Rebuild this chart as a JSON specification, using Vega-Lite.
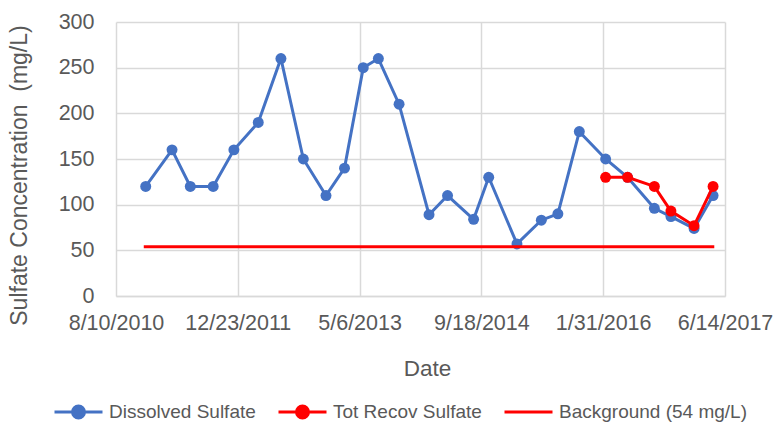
{
  "$schema": "https://vega.github.io/schema/vega-lite/v6.json",
  "autosize": {"type": "none"},
  "padding": {"left": 116, "top": 22, "right": 59, "bottom": 128},
  "width": 609,
  "height": 274,
  "background": "white",
  "config": {
    "view": {"stroke": null},
    "font": "Liberation Sans",
    "axis": {"labelColor": "#595959", "titleColor": "#595959", "titleFontWeight": "normal", "gridColor": "#D9D9D9", "gridWidth": 1.5, "ticks": false, "tickSize": 0}
  },
  "datasets": {
    "pts": [
      {"date": "2010-12-10", "value": 120, "series": "Dissolved Sulfate"},
      {"date": "2011-03-28", "value": 160, "series": "Dissolved Sulfate"},
      {"date": "2011-06-11", "value": 120, "series": "Dissolved Sulfate"},
      {"date": "2011-09-13", "value": 120, "series": "Dissolved Sulfate"},
      {"date": "2011-12-07", "value": 160, "series": "Dissolved Sulfate"},
      {"date": "2012-03-16", "value": 190, "series": "Dissolved Sulfate"},
      {"date": "2012-06-17", "value": 260, "series": "Dissolved Sulfate"},
      {"date": "2012-09-17", "value": 150, "series": "Dissolved Sulfate"},
      {"date": "2012-12-19", "value": 110, "series": "Dissolved Sulfate"},
      {"date": "2013-03-05", "value": 140, "series": "Dissolved Sulfate"},
      {"date": "2013-05-21", "value": 250, "series": "Dissolved Sulfate"},
      {"date": "2013-07-22", "value": 260, "series": "Dissolved Sulfate"},
      {"date": "2013-10-15", "value": 210, "series": "Dissolved Sulfate"},
      {"date": "2014-02-15", "value": 89, "series": "Dissolved Sulfate"},
      {"date": "2014-05-02", "value": 110, "series": "Dissolved Sulfate"},
      {"date": "2014-08-17", "value": 84, "series": "Dissolved Sulfate"},
      {"date": "2014-10-18", "value": 130, "series": "Dissolved Sulfate"},
      {"date": "2015-02-11", "value": 57, "series": "Dissolved Sulfate"},
      {"date": "2015-05-22", "value": 83, "series": "Dissolved Sulfate"},
      {"date": "2015-07-29", "value": 90, "series": "Dissolved Sulfate"},
      {"date": "2015-10-25", "value": 180, "series": "Dissolved Sulfate"},
      {"date": "2016-02-10", "value": 150, "series": "Dissolved Sulfate"},
      {"date": "2016-05-10", "value": 130, "series": "Dissolved Sulfate"},
      {"date": "2016-08-28", "value": 96, "series": "Dissolved Sulfate"},
      {"date": "2016-11-04", "value": 87, "series": "Dissolved Sulfate"},
      {"date": "2017-02-07", "value": 74, "series": "Dissolved Sulfate"},
      {"date": "2017-04-26", "value": 110, "series": "Dissolved Sulfate"},
      {"date": "2016-02-10", "value": 130, "series": "Tot Recov Sulfate"},
      {"date": "2016-05-10", "value": 130, "series": "Tot Recov Sulfate"},
      {"date": "2016-08-28", "value": 120, "series": "Tot Recov Sulfate"},
      {"date": "2016-11-04", "value": 93, "series": "Tot Recov Sulfate"},
      {"date": "2017-02-07", "value": 77, "series": "Tot Recov Sulfate"},
      {"date": "2017-04-26", "value": 120, "series": "Tot Recov Sulfate"},
      {"date": "2010-12-02", "value": 54, "series": "Background (54 mg/L)"},
      {"date": "2017-05-01", "value": 54, "series": "Background (54 mg/L)"}
    ]
  },
  "data": {"name": "pts"},
  "encoding": {
    "x": {
      "field": "date", "type": "temporal",
      "scale": {"type": "utc", "domain": [{"year": 2010, "month": 8, "date": 10, "utc": true}, {"year": 2017, "month": 6, "date": 14, "utc": true}]},
      "axis": {
        "title": "Date", "titleFontSize": 22.5, "titleX": 311, "titleY": 72, "titleBaseline": "middle", "titleAlign": "center",
        "values": [
          {"year": 2010, "month": 8, "date": 10, "utc": true},
          {"year": 2011, "month": 12, "date": 23, "utc": true},
          {"year": 2013, "month": 5, "date": 6, "utc": true},
          {"year": 2014, "month": 9, "date": 18, "utc": true},
          {"year": 2016, "month": 1, "date": 31, "utc": true},
          {"year": 2017, "month": 6, "date": 14, "utc": true}
        ],
        "labelExpr": "(utcmonth(datum.value)+1) + '/' + utcdate(datum.value) + '/' + utcyear(datum.value)",
        "labelFontSize": 21.5, "labelPadding": 16, "labelFlush": false, "labelOverlap": false, "labelBound": false,
        "domainColor": "#D9D9D9", "domainWidth": 1.5
      }
    },
    "y": {
      "field": "value", "type": "quantitative",
      "scale": {"domain": [0, 300], "nice": false, "zero": true},
      "axis": {
        "title": "Sulfate Concentration \u00a0(mg/L)", "titleFontSize": 23, "titleX": -97, "titleY": 153, "titleBaseline": "middle", "titleAlign": "center", "titleAngle": -90,
        "values": [0, 50, 100, 150, 200, 250, 300],
        "labelFontSize": 21.5, "labelPadding": 22, "domain": false
      }
    },
    "color": {
      "field": "series", "type": "nominal",
      "scale": {"domain": ["Dissolved Sulfate", "Tot Recov Sulfate", "Background (54 mg/L)"], "range": ["#4472C4", "#FF0000", "#FF0000"]},
      "legend": {
        "orient": "none", "legendX": -63, "legendY": 378, "direction": "horizontal", "title": null,
        "symbolSize": 2304, "symbolStrokeWidth": 3, "clipHeight": 24,
        "labelFontSize": 19, "labelColor": "#595959", "labelOffset": 5, "columnPadding": 21, "labelLimit": 0,
        "encode": {
          "symbols": {
            "update": {
              "shape": {"signal": "datum.value === 'Background (54 mg/L)' ? 'M-1,0L1,0' : 'M-1,0L1,0M-0.25,0A0.25,0.25 0 1,0 0.25,0A0.25,0.25 0 1,0 -0.25,0Z'"},
              "fill": {"scale": "color", "field": "value"},
              "stroke": {"scale": "color", "field": "value"},
              "strokeWidth": {"value": 3},
              "opacity": {"value": 1},
              "fillOpacity": {"value": 1}
            }
          }
        }
      }
    }
  },
  "layer": [
    {
      "transform": [{"filter": "datum.series === 'Dissolved Sulfate'"}],
      "mark": {"type": "line", "strokeWidth": 3, "point": {"filled": true, "size": 120, "opacity": 1}}
    },
    {
      "transform": [{"filter": "datum.series === 'Tot Recov Sulfate'"}],
      "mark": {"type": "line", "strokeWidth": 3, "point": {"filled": true, "size": 120, "opacity": 1}}
    },
    {
      "transform": [{"filter": "datum.series === 'Background (54 mg/L)'"}],
      "mark": {"type": "line", "strokeWidth": 3}
    }
  ]
}
